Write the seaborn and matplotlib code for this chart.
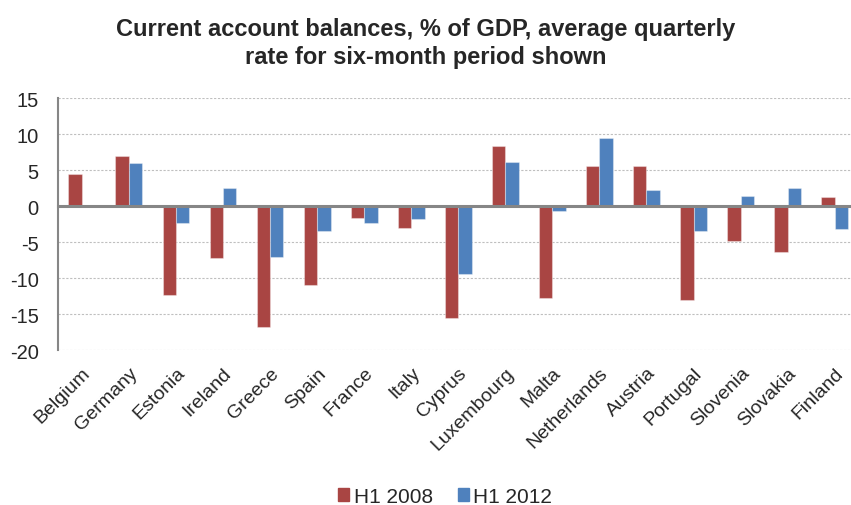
import matplotlib
matplotlib.use("Agg")
import matplotlib.pyplot as plt
import seaborn as sns
import pandas as pd
import numpy as np

countries = ["Belgium", "Germany", "Estonia", "Ireland", "Greece", "Spain", "France",
             "Italy", "Cyprus", "Luxembourg", "Malta", "Netherlands", "Austria",
             "Portugal", "Slovenia", "Slovakia", "Finland"]
h1_2008 = [4.5, 7.0, -12.3, -7.2, -16.8, -10.9, -1.7, -3.0, -15.6, 8.3, -12.8,
           5.6, 5.6, -13.0, -4.9, -6.4, 1.3]
h1_2012 = [0.2, 6.0, -2.4, 2.5, -7.1, -3.4, -2.4, -1.8, -9.4, 6.1, -0.7,
           9.4, 2.3, -3.5, 1.4, 2.5, -3.2]
series_names = ["H1 2008", "H1 2012"]
yticks = [15, 10, 5, 0, -5, -10, -15, -20]

df = pd.DataFrame({"Country": countries * 2,
                   "Value": h1_2008 + h1_2012,
                   "Series": [series_names[0]] * len(countries) + [series_names[1]] * len(countries)})

sns.set_style("white")
plt.rcParams["font.family"] = ["Liberation Sans", "DejaVu Sans"]

fig = plt.figure(figsize=(8.51, 5.06), dpi=100)
ax = fig.add_axes([0.0685, 0.306, 0.94, 0.498])

palette = {"H1 2008": "#A94543", "H1 2012": "#4F81BD"}
sns.barplot(data=df, x="Country", y="Value", hue="Series", palette=palette,
            width=0.57, ax=ax, edgecolor=None, linewidth=0, saturation=1, legend=True)
for p in ax.patches:
    p.set_edgecolor((1, 1, 1, 0.35))
    p.set_linewidth(0.8)

n = len(countries)
ax.set_xlim(-0.5, n - 0.5)
ax.set_ylim(-20, 15)
ax.set_yticks(yticks)
ax.set_yticklabels([str(t) for t in yticks], fontsize=14.5)
ax.yaxis.grid(True, color="#BFBFBF", linestyle=(0, (2, 1.5)), linewidth=0.8)
ax.set_axisbelow(True)
ax.set_xlabel("")
ax.set_ylabel("")

for s in ["top", "right"]:
    ax.spines[s].set_visible(False)
ax.spines["left"].set_color("#868686")
ax.spines["left"].set_linewidth(1.5)
ax.spines["bottom"].set_position(("data", 0))
ax.spines["bottom"].set_color("#868686")
ax.spines["bottom"].set_linewidth(2.2)
ax.spines["bottom"].set_zorder(3)
ax.tick_params(axis="y", direction="out", length=5, width=1.3, color="#868686", pad=9)
ax.set_xticks(np.arange(n) - 0.5)
ax.set_xticklabels([])
ax.tick_params(axis="x", direction="out", length=5, width=1.5, color="#868686")

sec = ax.secondary_xaxis(0)
sec.set_xticks(np.arange(n))
sec.set_xticklabels(countries, rotation=45, ha="right", rotation_mode="anchor",
                    fontsize=14)
sec.tick_params(length=0, pad=10)
sec.spines["bottom"].set_visible(False)

ax.get_legend().remove()
handles = [plt.Rectangle((0, 0), 1, 1, color=palette[s]) for s in series_names]
fig.legend(handles, series_names, loc="center", bbox_to_anchor=(0.523, 0.017),
           ncol=2, frameon=False, fontsize=15, handlelength=0.55, handleheight=0.55,
           handletextpad=0.2, columnspacing=1.2)

fig.text(0.5, 0.914, "Current account balances, % of GDP, average quarterly\nrate for six-month period shown",
         ha="center", va="center", fontsize=17, fontweight="bold", linespacing=1.25)

fig.savefig("out.png", dpi=100)
